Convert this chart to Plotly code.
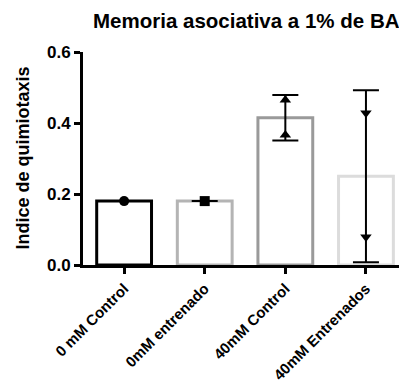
import plotly.graph_objects as go

# Chemotaxis index per group
categories = ["0 mM Control", "0mM entrenado", "40mM Control", "40mM Entrenados"]
means = [0.18, 0.18, 0.415, 0.25]
errors = [0.0, 0.0, 0.064, 0.242]
outline_colors = ["#000000", "#b4b4b4", "#9a9a9a", "#dcdcdc"]

# Individual replicate values shown over each bar
point_groups = [[0], [1], [2, 2], [3, 3]]
point_values = [[0.18], [0.18], [0.465, 0.366], [0.428, 0.079]]
point_symbols = ["circle", "square", "triangle-up", "triangle-down"]

y_ticks = [0.0, 0.2, 0.4, 0.6]
y_tick_labels = ["0.0", "0.2", "0.4", "0.6"]

FONT = "Liberation Sans, Arial, sans-serif"

fig = go.Figure()

fig.add_trace(go.Bar(
    x=list(range(len(categories))),
    y=means,
    width=0.68,
    marker=dict(color="rgba(255,255,255,0)",
                line=dict(color=outline_colors, width=3)),
    showlegend=False,
    hoverinfo="skip",
))

fig.add_trace(go.Scatter(
    x=list(range(len(categories))),
    y=means,
    mode="markers",
    marker=dict(size=1, color="rgba(0,0,0,0)"),
    error_y=dict(type="data", array=errors, visible=True,
                 color="#000000", thickness=2, width=13),
    showlegend=False,
    hoverinfo="skip",
))

for xs, ys, sym in zip(point_groups, point_values, point_symbols):
    fig.add_trace(go.Scatter(
        x=xs, y=ys, mode="markers",
        marker=dict(symbol=sym, size=10, color="#000000"),
        showlegend=False, hoverinfo="skip",
    ))

fig.update_layout(
    width=399, height=385,
    margin=dict(l=83, r=0, t=52, b=120),
    paper_bgcolor="white", plot_bgcolor="white",
    font=dict(family=FONT, color="#000000"),
    xaxis=dict(
        range=[-0.51, 3.41],
        tickmode="array",
        tickvals=list(range(len(categories))),
        ticktext=[f"<b>{c}</b>" for c in categories],
        tickangle=-45,
        ticks="outside", ticklen=6, tickwidth=2.5, tickcolor="#000000",
        showline=True, linecolor="#000000", linewidth=3,
        showgrid=False, zeroline=False, automargin=False,
        tickfont=dict(size=15, family=FONT),
    ),
    yaxis=dict(
        range=[0, 0.6],
        tickmode="array",
        tickvals=y_ticks,
        ticktext=[f"<b>{t}</b>" for t in y_tick_labels],
        ticks="outside", ticklen=6, tickwidth=2.5, tickcolor="#000000",
        showline=True, linecolor="#000000", linewidth=3,
        showgrid=False, zeroline=False, automargin=False,
        tickfont=dict(size=17, family=FONT),
    ),
    annotations=[
        dict(text="<b>Memoria asociativa a 1% de BA</b>",
             xref="paper", yref="paper", x=(91 - 83) / 316, y=1.15,
             xanchor="left", yanchor="middle", showarrow=False,
             font=dict(size=20.5, family=FONT)),
        dict(text="<b>Indice de quimiotaxis</b>",
             xref="paper", yref="paper", x=-(83 - 22) / 316, y=0.5,
             xanchor="center", yanchor="middle", textangle=-90,
             showarrow=False, font=dict(size=18, family=FONT)),
    ],
)

fig.write_html("out.html")
